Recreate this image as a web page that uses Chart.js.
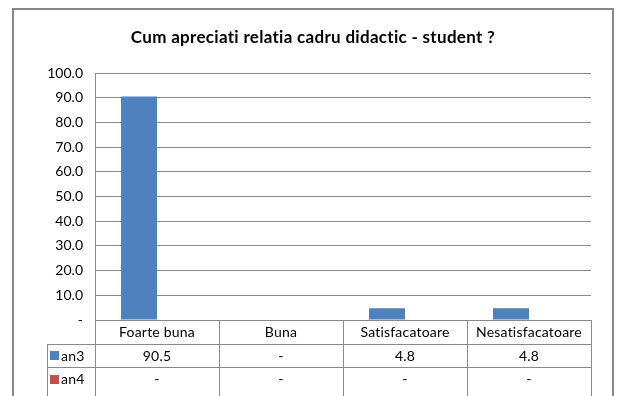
<!DOCTYPE html>
<html>
<head>
<meta charset="utf-8">
<script src="https://cdn.jsdelivr.net/npm/chart.js@4.4.0/dist/chart.umd.min.js"></script>
<style>
  html, body { margin: 0; padding: 0; background: #fff; }
  #wrap { width: 619px; height: 396px; }
</style>
</head>
<body>
<div id="wrap"><canvas id="relatieChart" width="619" height="396"></canvas></div>
<script>
const titleText = 'Cum apreciati relatia cadru didactic - student ?';
const categories = ['Foarte buna', 'Buna', 'Satisfacatoare', 'Nesatisfacatoare'];
const seriesNames = ['an3', 'an4'];
const an3Values = [90.5, 0, 4.8, 4.8];
const an4Values = [0, 0, 0, 0];
const yTickLabels = ['-', '10.0', '20.0', '30.0', '40.0', '50.0', '60.0', '70.0', '80.0', '90.0', '100.0'];

const seriesColors = ['#4F81BD', '#C0504D'];
const gridColor = '#898989';
const fontFamily = 'Lato, "Liberation Sans", sans-serif';
const rowHeight = 23.5;
const labelColLeft = 47;

// values shown in the table: zero reads as a dash
function fmt(v) {
  return v === 0 ? '-' : v.toFixed(1);
}

// frame, title and the data table under the plot
const tablePlugin = {
  id: 'dataTable',
  beforeDraw(chart) {
    const ctx = chart.ctx;
    ctx.save();
    ctx.fillStyle = '#fff';
    ctx.fillRect(0, 0, chart.width, chart.height);
    ctx.strokeStyle = '#878787';
    ctx.lineWidth = 2;
    ctx.strokeRect(13, 9, 600, 400);
    ctx.fillStyle = '#000';
    ctx.font = 'bold 17px ' + fontFamily;
    ctx.letterSpacing = '0.3px'; // also keeps "ti" from turning into a ligature
    ctx.textAlign = 'center';
    ctx.textBaseline = 'middle';
    ctx.fillText(titleText, 313, 38);
    ctx.restore();
  },
  afterDraw(chart) {
    const { ctx, chartArea } = chart;
    const x = chart.scales.x;
    const top = chartArea.bottom;
    const colW = (chartArea.right - chartArea.left) / categories.length;
    const bottom = chart.height;
    const rows = [an3Values, an4Values];

    ctx.save();
    ctx.strokeStyle = gridColor;
    ctx.lineWidth = 1;
    ctx.beginPath();
    // horizontal row lines
    for (let r = 1; r <= rows.length; r++) {
      const y = Math.round(top + r * rowHeight) + 0.5;
      ctx.moveTo(labelColLeft, y);
      ctx.lineTo(chartArea.right, y);
    }
    // column lines
    for (let i = 0; i <= categories.length; i++) {
      const cx = Math.round(chartArea.left + i * colW) + 0.5;
      ctx.moveTo(cx, top);
      ctx.lineTo(cx, bottom);
    }
    const lx = labelColLeft + 0.5;
    ctx.moveTo(lx, Math.round(top + rowHeight) + 0.5);
    ctx.lineTo(lx, bottom);
    ctx.stroke();

    ctx.fillStyle = '#000';
    ctx.font = '14px ' + fontFamily;
    ctx.letterSpacing = '0.2px';
    ctx.textAlign = 'center';
    ctx.textBaseline = 'middle';
    categories.forEach((c, i) => {
      ctx.fillText(c, x.getPixelForValue(i), top + rowHeight / 2 + 1);
    });
    rows.forEach((vals, r) => {
      const cy = top + (r + 1.5) * rowHeight + 1;
      vals.forEach((v, i) => {
        ctx.fillText(fmt(v), x.getPixelForValue(i), cy);
      });
      // legend key and series name
      ctx.fillStyle = seriesColors[r];
      ctx.fillRect(labelColLeft + 3, Math.round(cy - 5), 9, 9);
      ctx.fillStyle = '#000';
      ctx.textAlign = 'left';
      ctx.fillText(seriesNames[r], labelColLeft + 14, cy);
      ctx.textAlign = 'center';
    });
    ctx.restore();
  }
};

new Chart(document.getElementById('relatieChart'), {
  type: 'bar',
  data: {
    labels: categories,
    datasets: [
      { label: seriesNames[0], data: an3Values, backgroundColor: seriesColors[0] },
      { label: seriesNames[1], data: an4Values, backgroundColor: seriesColors[1] }
    ]
  },
  options: {
    responsive: false,
    animation: false,
    layout: { padding: { left: 0, right: 28, top: 73, bottom: 76 } },
    datasets: { bar: { categoryPercentage: 0.58, barPercentage: 1.0 } },
    plugins: {
      legend: { display: false },
      tooltip: { enabled: false },
      title: { display: false }
    },
    scales: {
      x: { display: false },
      y: {
        min: 0,
        max: 100,
        ticks: {
          stepSize: 10,
          padding: 12,
          color: '#000',
          font: { family: fontFamily, size: 14 },
          callback: (v, i) => yTickLabels[i]
        },
        grid: { color: gridColor, drawTicks: false, lineWidth: 1 },
        border: { display: true, color: gridColor, width: 1 },
        afterFit(scale) { scale.width = 95; }
      }
    }
  },
  plugins: [tablePlugin]
});
</script>
</body>
</html>
